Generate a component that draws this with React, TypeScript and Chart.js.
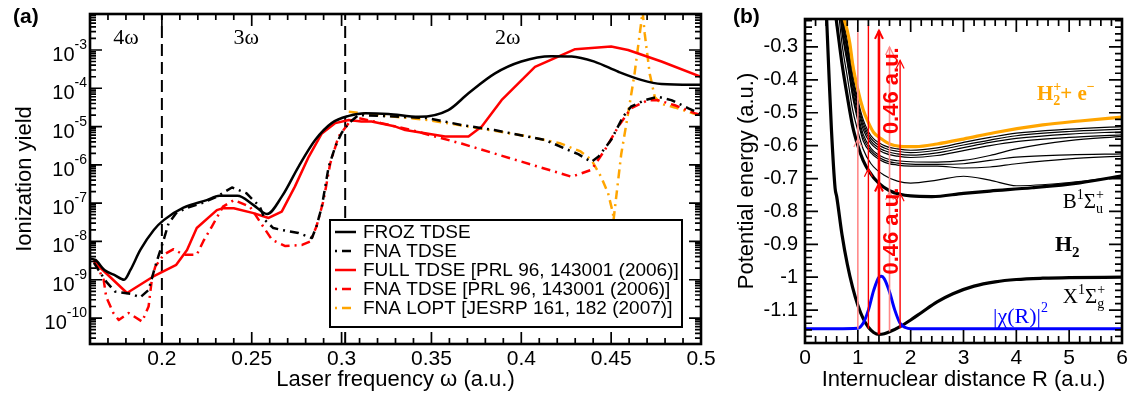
import { useEffect, useRef } from 'react';
import { Chart, registerables } from 'chart.js';

Chart.register(...registerables);

const SANS = '"Liberation Sans", Arial, Helvetica, sans-serif';
const SERIF = '"Liberation Serif", "Times New Roman", Times, serif';

// ---------------- Panel (a): ionization yield vs laser frequency ----------------
const frozFreq = [0.16, 0.163, 0.168, 0.174, 0.179, 0.1825, 0.188, 0.1955, 0.201, 0.212, 0.225, 0.232, 0.242, 0.251, 0.2585, 0.2668, 0.276, 0.2854, 0.2945, 0.304, 0.3132, 0.326, 0.343, 0.3594, 0.3706, 0.3854, 0.4, 0.4167, 0.428, 0.441, 0.454, 0.4667, 0.478, 0.5];
const frozYield = [3.55e-9, 3.3e-9, 1.8e-9, 1.3e-9, 1.0e-9, 1.8e-9, 6.0e-9, 2.0e-8, 3.6e-8, 7.6e-8, 1.2e-7, 1.55e-7, 1.55e-7, 8.9e-8, 5.2e-8, 1.5e-7, 8.9e-7, 4.5e-6, 1.23e-5, 1.9e-5, 2.24e-5, 2.14e-5, 1.8e-5, 2.7e-5, 7.4e-5, 2.45e-4, 5.0e-4, 6.9e-4, 6.8e-4, 4.9e-4, 2.7e-4, 1.66e-4, 1.29e-4, 1.23e-4];

const fnaFreq = [0.1622, 0.169, 0.174, 0.1824, 0.188, 0.1926, 0.196, 0.198, 0.201, 0.2037, 0.208, 0.214, 0.221, 0.2306, 0.239, 0.247, 0.2545, 0.2575, 0.262, 0.2667, 0.276, 0.2835, 0.286, 0.289, 0.2928, 0.2965, 0.3, 0.304, 0.3094, 0.33, 0.348, 0.3667, 0.385, 0.413, 0.4317, 0.439, 0.443, 0.45, 0.4567, 0.461, 0.4687, 0.476, 0.4835, 0.493, 0.5];
const fnaYield = [2.75e-9, 8.9e-10, 4.9e-10, 4.3e-10, 3.5e-10, 5.4e-10, 2.0e-9, 4.0e-9, 1.1e-8, 2.95e-8, 5.5e-8, 7.6e-8, 9.5e-8, 1.48e-7, 2.57e-7, 1.82e-7, 8.1e-8, 3.55e-8, 2.24e-8, 2.0e-8, 1.66e-8, 1.23e-8, 2.45e-8, 8.1e-8, 8.9e-7, 3.0e-6, 6.8e-6, 1.23e-5, 2.0e-5, 1.82e-5, 1.66e-5, 1.1e-5, 8.1e-6, 4.5e-6, 1.9e-6, 1.2e-6, 1.66e-6, 4.5e-6, 1.82e-5, 3.3e-5, 4.9e-5, 6.0e-5, 4.9e-5, 3.0e-5, 2.14e-5];

const fullPrlFreq = [0.1622, 0.1806, 0.195, 0.208, 0.214, 0.2194, 0.2306, 0.234, 0.24, 0.251, 0.2594, 0.2667, 0.274, 0.2817, 0.289, 0.2965, 0.304, 0.311, 0.3167, 0.33, 0.3354, 0.3576, 0.3706, 0.378, 0.389, 0.4076, 0.43, 0.45, 0.4594, 0.478, 0.5];
const fullPrlYield = [2.95e-9, 4.5e-10, 1.2e-9, 2.45e-9, 6.0e-9, 2.24e-8, 6.6e-8, 7.4e-8, 7.4e-8, 5.5e-8, 4.1e-8, 6.0e-8, 2.7e-7, 1.62e-6, 6.6e-6, 1.23e-5, 1.48e-5, 1.35e-5, 1.35e-5, 1.0e-5, 8.1e-6, 5.5e-6, 5.5e-6, 1.0e-5, 4.9e-5, 3.6e-4, 1.05e-3, 1.23e-3, 1.0e-3, 5.0e-4, 2.0e-4];

const fnaPrlFreq = [0.1622, 0.1676, 0.169, 0.173, 0.176, 0.1815, 0.189, 0.1926, 0.1944, 0.1963, 0.201, 0.2065, 0.212, 0.2194, 0.223, 0.2278, 0.234, 0.24, 0.249, 0.2576, 0.2613, 0.2687, 0.278, 0.2826, 0.286, 0.29, 0.2937, 0.2983, 0.304, 0.3094, 0.322, 0.339, 0.352, 0.3667, 0.394, 0.428, 0.439, 0.4465, 0.454, 0.461, 0.4706, 0.476, 0.4854, 0.4965, 0.5];
const fnaPrlYield = [3.3e-9, 1.0e-9, 3.6e-10, 1.35e-10, 8.9e-11, 1.35e-10, 8.1e-11, 2.0e-10, 1.0e-9, 2.2e-9, 4.5e-9, 6.3e-9, 4.5e-9, 4.5e-9, 1.0e-8, 2.45e-8, 8.1e-8, 1.2e-7, 8.1e-8, 2.0e-8, 1.1e-8, 7.6e-9, 8.1e-9, 1.0e-8, 2.45e-8, 1.2e-7, 1.1e-6, 5.5e-6, 1.23e-5, 1.66e-5, 1.23e-5, 8.1e-6, 5.5e-6, 3.6e-6, 1.48e-6, 4.9e-7, 7.4e-7, 2.45e-6, 1.0e-5, 3.0e-5, 4.9e-5, 4.9e-5, 3.6e-5, 2.24e-5, 2.0e-5];

const loptFreq = [0.304, 0.3206, 0.348, 0.376, 0.404, 0.422, 0.433, 0.439, 0.4444, 0.4483, 0.451, 0.4513, 0.4556, 0.4594, 0.463, 0.4659, 0.4675, 0.4687, 0.4715, 0.4743, 0.478, 0.4854, 0.4965, 0.5];
const loptYield = [2.45e-5, 2.0e-5, 1.48e-5, 9.1e-6, 5.5e-6, 3.6e-6, 2.24e-6, 1.35e-6, 4.9e-7, 1.82e-7, 5.5e-8, 3.55e-8, 1.9e-6, 2.14e-5, 2.34e-4, 2.63e-3, 1.0e-2, 2.63e-3, 2.34e-4, 5.9e-5, 3.9e-5, 3.16e-5, 2.14e-5, 2.0e-5];

const thresholdFreq = [0.2, 0.302];
const freqTicks = [0.2, 0.25, 0.3, 0.35, 0.4, 0.45, 0.5];
const yieldDecades = [1e-10, 1e-9, 1e-8, 1e-7, 1e-6, 1e-5, 1e-4, 1e-3];
const yieldExponents = ['-10', '-9', '-8', '-7', '-6', '-5', '-4', '-3'];
const orderLabels = ['4ω', '3ω', '2ω'];
const orderLabelFreq = [0.18, 0.247, 0.3925];
const orderLabelYield = 2.0e-3;
const FREQ_MIN = 0.16, FREQ_MAX = 0.5, YIELD_MIN = 2.1e-11, YIELD_MAX = 8.7e-3;

// ---------------- Panel (b): potential curves of H2 ----------------
const xStateR = [0.41, 0.45, 0.5, 0.57, 0.6, 0.7, 0.8, 0.9, 1.0, 1.1, 1.2, 1.3, 1.4, 1.5, 1.6, 1.8, 2.0, 2.2, 2.5, 2.8, 3.2, 3.6, 4.0, 4.5, 5.0, 6.0];
const xStateE = [-0.215, -0.37, -0.55, -0.73, -0.755, -0.87, -0.96, -1.03, -1.085, -1.125, -1.152, -1.168, -1.174, -1.172, -1.166, -1.15, -1.13, -1.108, -1.075, -1.05, -1.027, -1.014, -1.007, -1.003, -1.001, -1.0];

const bStateR = [0.59, 0.65, 0.7, 0.8, 0.9, 1.0, 1.1, 1.2, 1.4, 1.6, 1.8, 2.0, 2.4, 3.0, 3.5, 4.3, 5.2, 6.0];
const bStateE = [-0.215, -0.29, -0.35, -0.45, -0.54, -0.6, -0.645, -0.675, -0.715, -0.737, -0.748, -0.753, -0.755, -0.745, -0.738, -0.728, -0.713, -0.692];

const ionR = [0.74, 0.8, 0.85, 0.9, 1.0, 1.1, 1.2, 1.3, 1.45, 1.6, 1.8, 2.1, 2.5, 3.0, 3.6, 4.5, 5.2, 6.0];
const ionE = [-0.215, -0.25, -0.29, -0.35, -0.43, -0.49, -0.53, -0.56, -0.58, -0.595, -0.602, -0.603, -0.595, -0.58, -0.56, -0.537, -0.525, -0.513];

const rydR = [0.62, 0.7, 0.8, 0.9, 1.0, 1.1, 1.25, 1.5, 1.75, 2.0, 2.5, 3.0, 3.5, 4.0, 5.0, 6.0];
const ryd1 = [-0.05, -0.19, -0.28, -0.38, -0.46, -0.52, -0.57, -0.6, -0.61, -0.614, -0.607, -0.59, -0.575, -0.562, -0.55, -0.542];
const ryd2 = [-0.06, -0.2, -0.295, -0.395, -0.47, -0.53, -0.578, -0.607, -0.617, -0.621, -0.614, -0.598, -0.583, -0.57, -0.557, -0.55];
const ryd3 = [-0.07, -0.21, -0.305, -0.405, -0.48, -0.54, -0.586, -0.615, -0.625, -0.629, -0.622, -0.606, -0.59, -0.578, -0.565, -0.558];
const ryd4 = [-0.08, -0.22, -0.315, -0.415, -0.49, -0.55, -0.594, -0.622, -0.632, -0.636, -0.63, -0.615, -0.6, -0.588, -0.575, -0.567];
const ryd5 = [-0.1, -0.235, -0.33, -0.43, -0.505, -0.565, -0.608, -0.637, -0.646, -0.649, -0.65, -0.645, -0.63, -0.61, -0.585, -0.572];
const ryd6 = [-0.11, -0.245, -0.34, -0.44, -0.515, -0.575, -0.615, -0.644, -0.653, -0.656, -0.657, -0.655, -0.645, -0.635, -0.628, -0.625];
const ryd7 = [-0.12, -0.255, -0.35, -0.45, -0.525, -0.585, -0.622, -0.65, -0.659, -0.662, -0.662, -0.668, -0.665, -0.655, -0.64, -0.632];
const ryd8 = [-0.17, -0.29, -0.39, -0.49, -0.555, -0.61, -0.655, -0.69, -0.708, -0.714, -0.705, -0.693, -0.705, -0.722, -0.712, -0.694];

const chiR = [0, 1.0, 1.1, 1.2, 1.3, 1.4, 1.45, 1.5, 1.6, 1.7, 1.8, 1.9, 2.0, 6.0];
const chiE = [-1.157, -1.155, -1.14, -1.1, -1.04, -1.0, -0.997, -1.005, -1.045, -1.1, -1.14, -1.153, -1.157, -1.157];

const arrowR = [1.0, 1.2, 1.4, 1.6, 1.8];
const arrowFromE = [-1.157, -1.157, -1.174, -1.165, -1.155];
const arrowToE = [-0.255, -0.233, -0.251, -0.3, -0.341];
const arrowMidHeadE = [-0.58, -0.67, -0.715, -0.74, -0.745];
const arrowTopHead = [false, false, true, true, true];
const arrowColors = ['#ff8a8a', '#ff0000', '#ff0000', '#ff8a8a', '#ff0000'];
const arrowWidths = [1.6, 1.4, 2.6, 1.6, 1.4];
const photonLabelR = 1.62;
const photonLabelE = [-0.433, -0.86];

const rTicks = [0, 1, 2, 3, 4, 5, 6];
const energyTicks = [-1.1, -1, -0.9, -0.8, -0.7, -0.6, -0.5, -0.4, -0.3];
const R_MIN = 0, R_MAX = 6, E_MIN = -1.2, E_MAX = -0.215;

// ---------------- helpers ----------------
const pts = (xs: number[], ys: number[]) => xs.map((x, i) => ({ x, y: ys[i] }));

type Part = { t: string; size: number; dy?: number; bold?: boolean; keep?: boolean };
function drawRich(ctx: CanvasRenderingContext2D, x: number, y: number, parts: Part[], color: string, family: string) {
  ctx.fillStyle = color;
  ctx.textAlign = 'left';
  ctx.textBaseline = 'alphabetic';
  let cx = x;
  for (const p of parts) {
    ctx.font = `${p.bold ? 'bold ' : ''}${p.size}px ${family}`;
    ctx.fillText(p.t, cx, y + (p.dy || 0));
    if (!p.keep) cx += ctx.measureText(p.t).width;
  }
}

function drawFrameAndTicks(ctx: CanvasRenderingContext2D, chart: any, xMajor: number[], xMinor: number[], yMajor: number[], yMinor: number[], majLen: number, minLen: number) {
  const a = chart.chartArea;
  const xs = chart.scales.x, ys = chart.scales.y;
  ctx.save();
  ctx.setLineDash([]);
  ctx.strokeStyle = '#000';
  ctx.lineWidth = 1.7;
  ctx.beginPath();
  const tx = (vals: number[], len: number) => {
    for (const v of vals) {
      const p = xs.getPixelForValue(v);
      if (p < a.left - 0.5 || p > a.right + 0.5) continue;
      ctx.moveTo(p, a.bottom); ctx.lineTo(p, a.bottom - len);
      ctx.moveTo(p, a.top); ctx.lineTo(p, a.top + len);
    }
  };
  const ty = (vals: number[], len: number) => {
    for (const v of vals) {
      const p = ys.getPixelForValue(v);
      if (p < a.top - 0.5 || p > a.bottom + 0.5) continue;
      ctx.moveTo(a.left, p); ctx.lineTo(a.left + len, p);
      ctx.moveTo(a.right, p); ctx.lineTo(a.right - len, p);
    }
  };
  tx(xMajor, majLen); tx(xMinor, minLen); ty(yMajor, majLen); ty(yMinor, minLen);
  ctx.stroke();
  ctx.lineWidth = 2.6;
  ctx.strokeRect(a.left, a.top, a.right - a.left, a.bottom - a.top);
  ctx.restore();
}

const panelAPlugin = {
  id: 'panelA',
  afterDatasetsDraw(chart: any) {
    const { ctx, chartArea: a, scales } = chart;
    const xs = scales.x, ys = scales.y;
    ctx.save();
    // photon-order labels
    ctx.font = `22px ${SERIF}`;
    ctx.fillStyle = '#000';
    ctx.textAlign = 'center';
    ctx.textBaseline = 'middle';
    orderLabels.forEach((t, i) => ctx.fillText(t, xs.getPixelForValue(orderLabelFreq[i]), ys.getPixelForValue(orderLabelYield)));

    // legend
    const bw = 352, bh = 107;
    const bx = a.right - 19 - bw, by = a.bottom - 17 - bh;
    ctx.fillStyle = '#fff';
    ctx.fillRect(bx, by, bw, bh);
    ctx.strokeStyle = '#000';
    ctx.lineWidth = 2;
    ctx.setLineDash([]);
    ctx.strokeRect(bx, by, bw, bh);
    const entries = chart.data.datasets.filter((d: any) => d.label);
    entries.forEach((d: any, i: number) => {
      const y = by + 12 + i * 19;
      ctx.beginPath();
      ctx.strokeStyle = d.borderColor;
      ctx.lineWidth = 2.5;
      ctx.setLineDash(d.borderDash || []);
      ctx.lineDashOffset = d.borderDash ? 14 : 0;
      ctx.moveTo(bx + 5, y);
      ctx.lineTo(bx + 26, y);
      ctx.stroke();
      ctx.setLineDash([]);
      ctx.lineDashOffset = 0;
      ctx.fillStyle = '#000';
      ctx.font = `19px ${SANS}`;
      ctx.textAlign = 'left';
      ctx.textBaseline = 'middle';
      ctx.fillText(d.label, bx + 33, y + 1);
    });
    ctx.restore();
  },
  afterDraw(chart: any) {
    const { ctx, chartArea: a, scales } = chart;
    const ys = scales.y;
    const xMinor: number[] = [];
    for (let i = 16; i <= 50; i++) xMinor.push(i / 100);
    const yMinor: number[] = [];
    for (let d = -11; d <= -3; d++) for (let m = 2; m <= 9; m++) yMinor.push(m * Math.pow(10, d));
    drawFrameAndTicks(ctx, chart, freqTicks, xMinor, yieldDecades, yMinor, 12, 6);

    // y labels 10^n
    ctx.save();
    ctx.fillStyle = '#000';
    yieldDecades.forEach((v, i) => {
      const p = ys.getPixelForValue(v);
      ctx.font = `14px ${SANS}`;
      const ew = ctx.measureText(yieldExponents[i]).width;
      const right = a.left - 3;
      ctx.textAlign = 'left';
      ctx.textBaseline = 'alphabetic';
      ctx.fillText(yieldExponents[i], right - ew, p - 1);
      ctx.font = `20px ${SANS}`;
      ctx.textAlign = 'right';
      ctx.fillText('10', right - ew, p + 11);
    });
    ctx.font = `bold 21px ${SANS}`;
    ctx.textAlign = 'left';
    ctx.textBaseline = 'middle';
    ctx.fillText('(a)', 13, 17);
    ctx.restore();
  },
};

const panelBPlugin = {
  id: 'panelB',
  afterDatasetsDraw(chart: any) {
    const { ctx, scales } = chart;
    const xs = scales.x, ys = scales.y;
    ctx.save();
    // arrow heads
    const head = (x: number, y: number, color: string, w: number) => {
      ctx.beginPath();
      ctx.strokeStyle = color;
      ctx.lineWidth = Math.max(1.2, w * 0.8);
      ctx.moveTo(x - 4, y + 8);
      ctx.lineTo(x, y);
      ctx.lineTo(x + 4, y + 8);
      ctx.stroke();
    };
    arrowR.forEach((r, i) => {
      const px = xs.getPixelForValue(r);
      head(px, ys.getPixelForValue(arrowMidHeadE[i]), arrowColors[i], arrowWidths[i]);
      if (arrowTopHead[i]) head(px, ys.getPixelForValue(arrowToE[i]), arrowColors[i], arrowWidths[i]);
    });
    // 0.46 a.u. labels
    ctx.fillStyle = '#ff0000';
    ctx.font = `bold 22px ${SANS}`;
    ctx.textAlign = 'center';
    ctx.textBaseline = 'middle';
    photonLabelE.forEach((e) => {
      ctx.save();
      ctx.translate(xs.getPixelForValue(photonLabelR), ys.getPixelForValue(e));
      ctx.rotate(-Math.PI / 2);
      ctx.fillText('0.46 a.u.', 0, 1);
      ctx.restore();
    });
    // state labels
    const P = (r: number, e: number) => [xs.getPixelForValue(r), ys.getPixelForValue(e)];
    let [x, y] = P(4.39, -0.462);
    drawRich(ctx, x, y, [
      { t: 'H', size: 21, bold: true },
      { t: '+', size: 14, dy: -9, bold: true, keep: true },
      { t: '2', size: 14, dy: 5, bold: true },
      { t: '+ e', size: 21, bold: true },
      { t: '−', size: 14, dy: -9, bold: true },
    ], '#ffa500', SERIF);
    [x, y] = P(4.88, -0.791);
    drawRich(ctx, x, y, [
      { t: 'B', size: 21 }, { t: '1', size: 14, dy: -9 }, { t: 'Σ', size: 21 },
      { t: '+', size: 14, dy: -9, keep: true }, { t: 'u', size: 14, dy: 5 },
    ], '#000', SERIF);
    [x, y] = P(4.73, -0.92);
    drawRich(ctx, x, y, [{ t: 'H', size: 22, bold: true }, { t: '2', size: 15, dy: 6, bold: true }], '#000', SERIF);
    [x, y] = P(4.88, -1.078);
    drawRich(ctx, x, y, [
      { t: 'X', size: 21 }, { t: '1', size: 14, dy: -9 }, { t: 'Σ', size: 21 },
      { t: '+', size: 14, dy: -9, keep: true }, { t: 'g', size: 14, dy: 5 },
    ], '#000', SERIF);
    [x, y] = P(3.56, -1.138);
    drawRich(ctx, x, y, [{ t: '|χ(R)|', size: 22 }, { t: '2', size: 14, dy: -11 }], '#0000ff', SERIF);
    ctx.restore();
  },
  afterDraw(chart: any) {
    const { ctx } = chart;
    const xMinor: number[] = [];
    for (let i = 0; i <= 30; i++) xMinor.push(i / 5);
    const yMinor: number[] = [];
    for (let i = -60; i <= -11; i++) yMinor.push(i / 50);
    drawFrameAndTicks(ctx, chart, rTicks, xMinor, energyTicks, yMinor, 13, 7);
    ctx.save();
    ctx.fillStyle = '#000';
    ctx.font = `bold 21px ${SANS}`;
    ctx.textAlign = 'left';
    ctx.textBaseline = 'middle';
    ctx.fillText('(b)', 13, 17);
    ctx.restore();
  },
};

const axisCommon = {
  grid: { display: false, drawTicks: false },
  border: { display: false },
};

export default function App() {
  const refA = useRef<HTMLCanvasElement>(null);
  const refB = useRef<HTMLCanvasElement>(null);

  useEffect(() => {
    const dashDot = [9, 5, 2, 5];
    const line = (label: string, data: any, color: string, extra: any = {}) => ({
      label, data, borderColor: color, backgroundColor: color, borderWidth: 2.5,
      pointRadius: 0, fill: false, tension: 0, clip: 0, borderCapStyle: 'butt', borderJoinStyle: 'round', ...extra,
    });

    const chartA = new Chart(refA.current as HTMLCanvasElement, {
      type: 'line',
      data: {
        datasets: [
          line('FROZ TDSE', pts(frozFreq, frozYield), '#000000', { cubicInterpolationMode: 'monotone' }),
          line('FNA TDSE', pts(fnaFreq, fnaYield), '#000000', { borderDash: dashDot }),
          line('FULL TDSE [PRL 96, 143001 (2006)]', pts(fullPrlFreq, fullPrlYield), '#ff0000'),
          line('FNA TDSE [PRL 96, 143001 (2006)]', pts(fnaPrlFreq, fnaPrlYield), '#ff0000', { borderDash: dashDot }),
          line('FNA LOPT [JESRP 161, 182 (2007)]', pts(loptFreq, loptYield), '#ffa500', { borderDash: dashDot }),
          ...thresholdFreq.map((f) => line('', [{ x: f, y: YIELD_MIN }, { x: f, y: YIELD_MAX }], '#000000', { borderDash: [12, 6], borderWidth: 2 })),
        ],
      },
      options: {
        animation: false,
        responsive: false,
        maintainAspectRatio: false,
        events: [],
        layout: { padding: { left: 0, top: 14, right: 19, bottom: 0 } },
        plugins: { legend: { display: false }, tooltip: { enabled: false } },
        scales: {
          x: {
            type: 'linear', min: FREQ_MIN, max: FREQ_MAX, ...axisCommon,
            afterBuildTicks: (s: any) => { s.ticks = freqTicks.map((v) => ({ value: v })); },
            afterFit: (s: any) => { s.height = 53; },
            ticks: { color: '#000', font: { family: SANS, size: 21 }, padding: 3, maxRotation: 0, autoSkip: false, callback: (v: any) => String(v) },
            title: { display: true, text: 'Laser frequency ω (a.u.)', color: '#000', font: { family: SANS, size: 22 }, padding: { top: 0, bottom: 4 } },
          },
          y: {
            type: 'logarithmic', min: YIELD_MIN, max: YIELD_MAX, ...axisCommon,
            afterBuildTicks: (s: any) => { s.ticks = yieldDecades.map((v) => ({ value: v })); },
            afterFit: (s: any) => { s.width = 90; },
            ticks: { display: false },
            title: { display: true, text: 'Ionization yield', color: '#000', font: { family: SANS, size: 22 }, padding: { top: 12, bottom: 0 } },
          },
        },
      } as any,
      plugins: [panelAPlugin],
    } as any);

    const thin = [ryd1, ryd2, ryd3, ryd4, ryd5, ryd6, ryd7, ryd8];
    const chartB = new Chart(refB.current as HTMLCanvasElement, {
      type: 'line',
      data: {
        datasets: [
          ...arrowR.map((r, i) => line('', [{ x: r, y: arrowFromE[i] }, { x: r, y: arrowToE[i] }], arrowColors[i], { borderWidth: arrowWidths[i] })),
          line('', pts(chiR, chiE), '#0000ff', { borderWidth: 3, cubicInterpolationMode: 'monotone' }),
          line('', pts(ionR, ionE), '#ffa500', { borderWidth: 3.2, cubicInterpolationMode: 'monotone' }),
          line('', pts(bStateR, bStateE), '#000000', { borderWidth: 3.2, cubicInterpolationMode: 'monotone' }),
          line('', pts(xStateR, xStateE), '#000000', { borderWidth: 3.2, cubicInterpolationMode: 'monotone' }),
          ...thin.map((e) => line('', pts(rydR, e), '#000000', { borderWidth: 1.2, cubicInterpolationMode: 'monotone' })),
        ],
      },
      options: {
        animation: false,
        responsive: false,
        maintainAspectRatio: false,
        events: [],
        layout: { padding: { left: 0, top: 14, right: 9, bottom: 0 } },
        plugins: { legend: { display: false }, tooltip: { enabled: false } },
        scales: {
          x: {
            type: 'linear', min: R_MIN, max: R_MAX, ...axisCommon,
            afterBuildTicks: (s: any) => { s.ticks = rTicks.map((v) => ({ value: v })); },
            afterFit: (s: any) => { s.height = 54; },
            ticks: { color: '#000', font: { family: SANS, size: 21 }, padding: 3, maxRotation: 0, autoSkip: false, callback: (v: any) => String(v) },
            title: { display: true, text: 'Internuclear distance R (a.u.)', color: '#000', font: { family: SANS, size: 22 }, padding: { top: 0, bottom: 4 } },
          },
          y: {
            type: 'linear', min: E_MIN, max: E_MAX, ...axisCommon,
            afterBuildTicks: (s: any) => { s.ticks = energyTicks.map((v) => ({ value: v })); },
            afterFit: (s: any) => { s.width = 85; },
            ticks: { color: '#000', font: { family: SANS, size: 20 }, padding: 7, autoSkip: false, callback: (v: any) => String(v) },
            title: { display: true, text: 'Potential energy (a.u.)', color: '#000', font: { family: SANS, size: 22 }, padding: { top: 14, bottom: 0 } },
          },
        },
      } as any,
      plugins: [panelBPlugin],
    } as any);

    return () => {
      chartA.destroy();
      chartB.destroy();
    };
  }, []);

  return (
    <div style={{ position: 'fixed', left: 0, top: 0, width: 1131, height: 397, background: '#fff', overflow: 'hidden' }}>
      <canvas ref={refA} width={720} height={397} style={{ position: 'absolute', left: 0, top: 0, width: 720, height: 397 }} />
      <canvas ref={refB} width={411} height={397} style={{ position: 'absolute', left: 720, top: 0, width: 411, height: 397 }} />
    </div>
  );
}
